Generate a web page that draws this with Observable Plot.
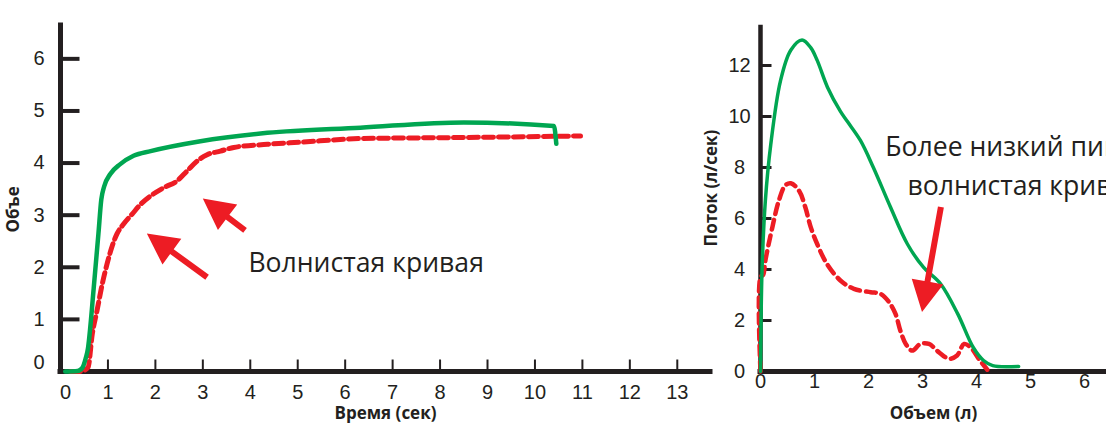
<!DOCTYPE html>
<html><head><meta charset="utf-8">
<script src="https://cdn.jsdelivr.net/npm/d3@7"></script>
<script src="https://cdn.jsdelivr.net/npm/@observablehq/plot@0.6"></script>
<style>
html,body{margin:0;padding:0;background:#fff;width:1106px;height:424px;overflow:hidden;}
#left{position:absolute;left:0;top:0;}
#right{position:absolute;left:690px;top:0;}
</style></head><body>
<div id="left"></div><div id="right"></div>
<script>
// ---------- data: volume–time (left) ----------
const timeTicks = [0,1,2,3,4,5,6,7,8,9,10,11,12,13];
const volTicks = [0,1,2,3,4,5,6];
const normalT = [0.1,0.36,0.46,0.53,0.58,0.6,0.7,0.8,0.86,0.92,1.05,1.26,1.54,1.9,2.95,4.36,6.32,8.5,10.4,10.45];
const normalV = [0,0.01,0.07,0.25,0.45,0.6,1.6,2.65,3.3,3.55,3.79,3.98,4.14,4.23,4.42,4.58,4.68,4.78,4.71,4.37];
const wavyT = [0.21,0.42,0.58,0.67,0.77,0.88,0.98,1.09,1.19,1.33,1.51,1.69,1.9,2.18,2.46,2.67,2.88,3.09,3.37,3.65,4.36,5.06,6.32,8.43,10.96];
const wavyV = [0,0,0.08,0.72,1.17,1.68,2.06,2.41,2.64,2.83,3.02,3.21,3.37,3.53,3.66,3.85,4.04,4.16,4.23,4.3,4.36,4.4,4.47,4.49,4.52];
// ---------- data: flow–volume (right) ----------
const volXTicks = [0,1,2,3,4,5,6];
const flowTicks = [0,2,4,6,8,10,12];
const normalVol = [0,0.01,0.03,0.09,0.19,0.37,0.56,0.77,0.93,1.05,1.24,1.48,1.61,1.85,2.09,2.41,2.72,3.02,3.33,3.65,3.94,4.13,4.3,4.78];
const normalFlow = [0,2,4.1,6.7,8.9,11.4,12.6,13.0,12.7,12.2,11.15,10.2,9.8,9.06,8.0,6.43,5.0,4.08,3.45,2.27,0.94,0.43,0.23,0.2];
const wavyVol = [0,0,0.05,0.09,0.22,0.34,0.46,0.56,0.71,0.83,0.93,1.05,1.23,1.48,1.73,2.04,2.22,2.38,2.5,2.59,2.69,2.81,2.96,3.12,3.3,3.49,3.64,3.77,3.89,4.04,4.2];
const wavyFlow = [0,3.7,3.8,4.35,5.66,6.7,7.3,7.38,7.1,6.44,5.66,5.0,4.22,3.57,3.24,3.11,3.05,2.72,2.26,1.6,1.08,0.82,1.08,1.08,0.76,0.5,0.63,1.08,0.95,0.5,0.07];
// ---------- texts & annotations ----------
const titleVT_x = "Время (сек)", titleVT_y = "Объе";
const titleFV_x = "Объем (л)", titleFV_y = "Поток (л/сек)";
const noteLeft = [{x: 3.96, y: 2.08, text: "Волнистая кривая"}];
const noteRight = [{x: 2.31, y: 8.8, text: "Более низкий пик и"}, {x: 2.72, y: 7.24, text: "волнистая кривая"}];
const arrowsLeft = [{x1: 3.10, y1: 1.80, x2: 1.83, y2: 2.64}, {x1: 3.90, y1: 2.70, x2: 3.01, y2: 3.31}];
const arrowsRight = [{x1: 3.35, y1: 6.43, x2: 3.0, y2: 2.31}];

const INK = "#231f20", GREEN = "#00a651", RED = "#ed1c24";
const zip = (xs, ys) => xs.map((x, i) => ({x, y: ys[i]}));
const fmt = d => String(d);

function arrowMark(arrows) {
  return (index, scales) => {
    const g = d3.create("svg:g");
    const L = 31, W = 32, w = 6;
    for (const a of arrows) {
      const sx = scales.x(a.x1), sy = scales.y(a.y1), tx = scales.x(a.x2), ty = scales.y(a.y2);
      const d = Math.hypot(tx - sx, ty - sy), ux = (tx - sx) / d, uy = (ty - sy) / d;
      const nx = -uy, ny = ux, bx = tx - ux * L, by = ty - uy * L;
      const pts = [
        [sx + nx * w / 2, sy + ny * w / 2], [bx + nx * w / 2, by + ny * w / 2],
        [bx + nx * W / 2, by + ny * W / 2], [tx, ty],
        [bx - nx * W / 2, by - ny * W / 2], [bx - nx * w / 2, by - ny * w / 2],
        [sx - nx * w / 2, sy - ny * w / 2]];
      g.append("path").attr("d", "M" + pts.map(p => p.join(",")).join("L") + "Z").attr("fill", RED);
    }
    return g.node();
  };
}

// layout of the two panels
const LP = {width: 720, height: 424, marginLeft: 60, marginRight: 10, marginTop: 25, marginBottom: 53, xMax: 13.7, yMax: 6.64};
const RP = {width: 416, height: 424, marginLeft: 70, marginRight: 0, marginTop: 27, marginBottom: 53, xMax: 6.407, yMax: 13.49};
// convert a tick length in pixels into data units of a panel
const pxX = (P, px) => px * P.xMax / (P.width - P.marginLeft - P.marginRight);
const pxY = (P, px) => px * P.yMax / (P.height - P.marginTop - P.marginBottom);

const baseStyle = {background: "transparent", fontFamily: "'Liberation Sans', Arial, sans-serif", fontSize: "20px", color: INK, overflow: "visible"};
const titleFont = {fontFamily: "'Open Sans', sans-serif", fontWeight: "bold", fontSize: 17, fill: INK};
const noteFont = {fontFamily: "'Open Sans', sans-serif", fontSize: 26.6, fill: INK};

const left = Plot.plot({
  width: LP.width, height: LP.height, marginLeft: LP.marginLeft, marginRight: LP.marginRight, marginTop: LP.marginTop, marginBottom: LP.marginBottom,
  x: {domain: [0, LP.xMax]}, y: {domain: [0, LP.yMax]},
  style: baseStyle,
  marks: [
    Plot.axisX([0], {tickSize: 0, tickPadding: 13, dx: 5, tickFormat: fmt, label: null}),
    Plot.axisX(timeTicks.slice(1), {tickSize: 0, tickPadding: 13, tickFormat: fmt, label: null}),
    Plot.axisY([0], {tickSize: 0, tickPadding: 16, dy: -9, tickFormat: fmt, label: null}),
    Plot.axisY(volTicks.slice(1), {tickSize: 0, tickPadding: 16, tickFormat: fmt, label: null}),
    Plot.link(timeTicks.slice(1), {x1: d => d, x2: d => d, y1: 0, y2: pxY(LP, 12), stroke: INK, strokeWidth: 2}),
    Plot.link(volTicks.slice(1), {x1: 0, x2: pxX(LP, 19), y1: d => d, y2: d => d, stroke: INK, strokeWidth: 4}),
    Plot.ruleX([0], {stroke: INK, strokeWidth: 5, strokeLinecap: "square"}),
    Plot.ruleY([0], {stroke: INK, strokeWidth: 5, strokeLinecap: "square"}),
    Plot.line(zip(wavyT, wavyV), {x: "x", y: "y", stroke: RED, strokeWidth: 5, strokeDasharray: "10,5", curve: "monotone-x"}),
    Plot.line(zip(normalT, normalV), {x: "x", y: "y", stroke: GREEN, strokeWidth: 4.5, curve: "monotone-x"}),
    arrowMark(arrowsLeft),
    Plot.text(noteLeft, {x: "x", y: "y", text: "text", textAnchor: "start", lineAnchor: "middle", ...noteFont}),
    Plot.text([titleVT_x], {text: d => d, frameAnchor: "bottom", dy: 42, lineAnchor: "middle", ...titleFont}),
    Plot.text([titleVT_y], {text: d => d, frameAnchor: "left", rotate: -90, dx: -46.5, dy: 34, lineAnchor: "middle", ...titleFont})
  ]
});
document.getElementById("left").append(left);

const right = Plot.plot({
  width: RP.width, height: RP.height, marginLeft: RP.marginLeft, marginRight: RP.marginRight, marginTop: RP.marginTop, marginBottom: RP.marginBottom,
  x: {domain: [0, RP.xMax]}, y: {domain: [0, RP.yMax]},
  style: baseStyle,
  marks: [
    Plot.axisX(volXTicks, {tickSize: 0, tickPadding: 2, tickFormat: fmt, label: null}),
    Plot.axisY(flowTicks, {tickSize: 0, tickPadding: 21, textAnchor: "middle", tickFormat: fmt, label: null}),
    Plot.link(flowTicks.slice(1), {x1: 0, x2: pxX(RP, 11), y1: d => d, y2: d => d, stroke: INK, strokeWidth: 3}),
    Plot.ruleX([0], {stroke: INK, strokeWidth: 4.5, strokeLinecap: "square"}),
    Plot.ruleY([0], {stroke: INK, strokeWidth: 5, strokeLinecap: "square"}),
    Plot.line(zip(wavyVol, wavyFlow), {x: "x", y: "y", stroke: RED, strokeWidth: 4.5, strokeDasharray: "10,6", curve: "catmull-rom"}),
    Plot.line(zip(normalVol, normalFlow), {x: "x", y: "y", stroke: GREEN, strokeWidth: 3.5, curve: "catmull-rom"}),
    arrowMark(arrowsRight),
    Plot.text(noteRight, {x: "x", y: "y", text: "text", textAnchor: "start", lineAnchor: "middle", ...noteFont}),
    Plot.text([titleFV_x], {text: d => d, frameAnchor: "bottom", dy: 42, lineAnchor: "middle", ...titleFont}),
    Plot.text([titleFV_y], {text: d => d, frameAnchor: "left", rotate: -90, dx: -49, dy: 47, lineAnchor: "middle", ...titleFont})
  ]
});
document.getElementById("right").append(right);
</script>
</body></html>
